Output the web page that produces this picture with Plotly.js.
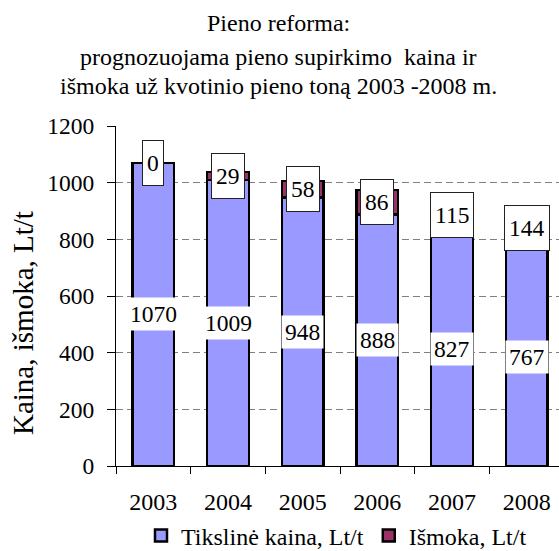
<!DOCTYPE html>
<html>
<head>
<meta charset="utf-8">
<script src="https://cdn.plot.ly/plotly-3.0.1.min.js"></script>
<style>html,body{margin:0;padding:0;background:#fff;overflow:hidden;}#chart{width:564px;height:566px;}</style>
</head>
<body>
<div id="chart"></div>
<script>
const years = ['2003', '2004', '2005', '2006', '2007', '2008'];
const targetPrice = [1070, 1009, 948, 888, 827, 767];
const payment = [0, 29, 58, 86, 115, 144];
const seriesNames = ['Tikslinė kaina, Lt/t', 'Išmoka, Lt/t'];
const titleLines = ['Pieno reforma:', 'prognozuojama pieno supirkimo  kaina ir', 'išmoka už kvotinio pieno toną 2003 -2008 m.'];
const yTitle = 'Kaina, išmoka, Lt/t';

const FONT = "'Liberation Serif', 'Times New Roman', serif";

const traces = [
  {
    type: 'bar', x: years, y: targetPrice, name: seriesNames[0],
    marker: {color: '#9999FF', line: {color: '#000', width: 2.5}},
    hoverinfo: 'none'
  },
  {
    type: 'bar', x: years, y: payment, name: seriesNames[1],
    marker: {color: '#993366', line: {color: '#000', width: 2.5}},
    hoverinfo: 'none'
  }
];

const PL = 116, PR = 564, PT = 126, PB = 466;
const PW = PR - PL, PH = PB - PT;
const px = v => (v - PL) / PW;
const py = v => (PB - v) / PH;

const annotations = [];
years.forEach((yr, i) => {
  annotations.push({
    x: i, y: targetPrice[i] / 2, xref: 'x', yref: 'y',
    text: String(targetPrice[i]), showarrow: false,
    font: {family: FONT, size: 23.5, color: '#000'},
    bgcolor: '#fff', borderpad: 3, height: 26,
    xanchor: 'center', yanchor: 'middle'
  });
  annotations.push({
    x: i, y: targetPrice[i] + payment[i] / 2, xref: 'x', yref: 'y',
    text: String(payment[i]), showarrow: false,
    font: {family: FONT, size: 23.5, color: '#000'},
    bgcolor: '#fff', bordercolor: '#222', borderwidth: 1, borderpad: 4, height: 36,
    xanchor: 'center', yanchor: 'middle'
  });
});

const titleY = [23, 57, 86];
titleLines.forEach((t, i) => {
  annotations.push({
    xref: 'paper', yref: 'paper',
    x: px(278), y: py(titleY[i]),
    text: t, showarrow: false,
    font: {family: FONT, size: 24, color: '#000'},
    xanchor: 'center', yanchor: 'middle'
  });
});

annotations.push({
  xref: 'paper', yref: 'paper',
  x: px(23), y: py(323),
  text: yTitle, textangle: -90, showarrow: false,
  font: {family: FONT, size: 29, color: '#000'},
  xanchor: 'center', yanchor: 'middle'
});

const layout = {
  width: 564, height: 566,
  margin: {l: PL, r: 564 - PR, t: PT, b: 566 - PB, pad: 0},
  paper_bgcolor: '#fff', plot_bgcolor: '#fff',
  barmode: 'stack', bargap: 0.44,
  font: {family: FONT, size: 24, color: '#000'},
  showlegend: true,
  legend: {
    orientation: 'h', x: px(141), xanchor: 'left',
    y: py(536), yanchor: 'middle',
    font: {family: FONT, size: 24, color: '#000'},
    traceorder: 'normal', itemwidth: 30
  },
  xaxis: {
    type: 'category', range: [-0.5, 5.5], fixedrange: true,
    showline: true, linecolor: '#000', linewidth: 1,
    ticks: 'outside', ticklen: 7, tickcolor: '#000', tickson: 'boundaries',
    showgrid: false, zeroline: false,
    tickfont: {family: FONT, size: 24, color: '#000'},
    ticklabelstandoff: 14
  },
  yaxis: {
    range: [0, 1200], dtick: 200, fixedrange: true,
    showline: true, linecolor: '#000', linewidth: 1,
    ticks: 'outside', ticklen: 8, tickcolor: '#000',
    showgrid: true, gridcolor: '#808080', gridwidth: 1, griddash: '7px,4px',
    zeroline: false,
    tickfont: {family: FONT, size: 23.5, color: '#000'},
    ticklabelstandoff: 8
  },
  annotations: annotations
};

Plotly.newPlot('chart', traces, layout, {displayModeBar: false, staticPlot: true});
</script>
</body>
</html>
